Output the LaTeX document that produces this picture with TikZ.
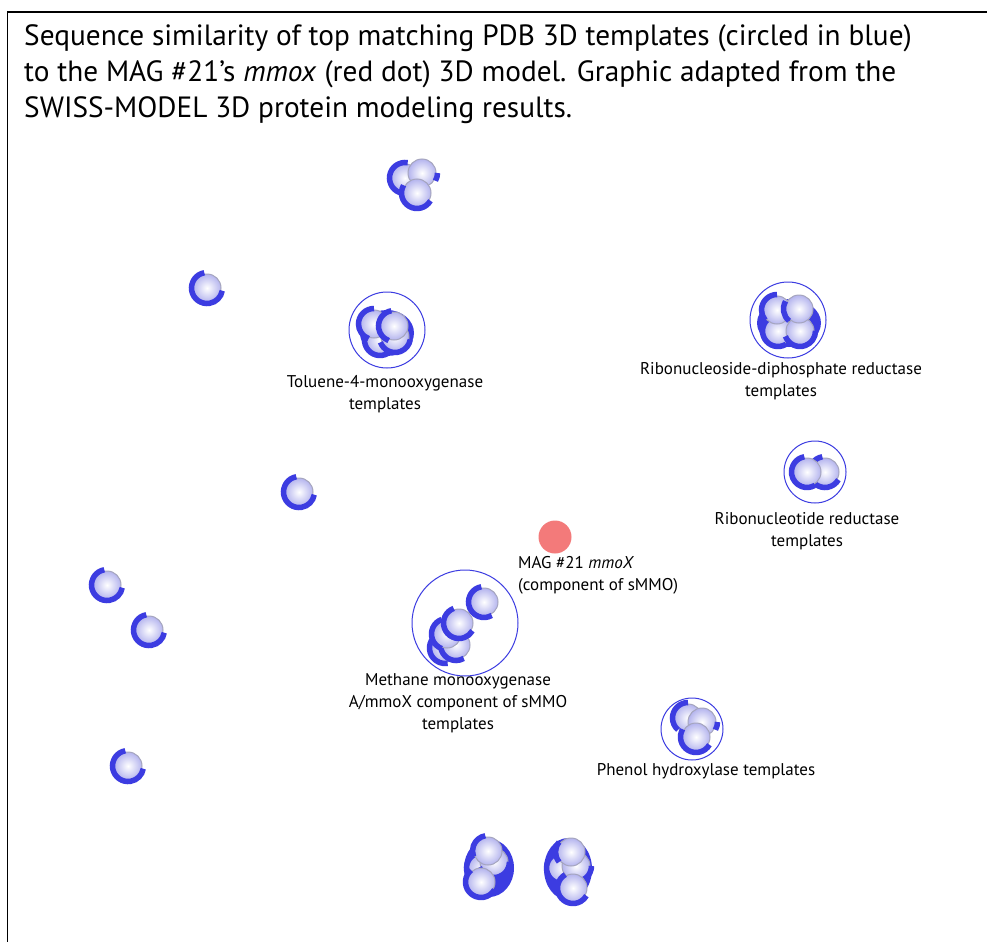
\documentclass[tikz,border=0pt]{standalone}
\usepackage{fontspec}
\setmainfont{PT Sans}
\definecolor{bblue}{RGB}{60,60,225}
\definecolor{lav}{RGB}{180,180,238}
\definecolor{ring}{RGB}{165,165,190}
\definecolor{reddot}{RGB}{243,122,122}
\tikzset{
  tpl/.style={circle, minimum size=28pt, inner sep=0pt, draw=ring, line width=1pt, shade, inner color=white, outer color=lav},
  barc/.style={draw=bblue, line width=5.5pt},
  blob/.style={fill=bblue},
  encl/.style={circle, draw=bblue, line width=1pt, inner sep=0pt},
  lbl/.style={font=\fontsize{17}{22}\selectfont, align=center, inner sep=0pt},
}
\newcommand\glyph[5]{%
  \node[tpl] (#1) at (#2,#3) {};
  \draw[barc] (#1.center) ++(-#4:15.5) arc[start angle=-#4, end angle=-#5, radius=15.5];}
\begin{document}
\begin{tikzpicture}[x=1pt,y=-1pt]
\useasboundingbox (0,0) rectangle (987,942);
\fill[white] (0,0) rectangle (987,942);
\draw[line width=1.5pt] (987,12) -- (7.5,12) -- (7.5,942);
% title
\node[anchor=north west, align=left, inner sep=0pt, font=\fontsize{29.3}{36}\selectfont] (title) at (24,24)
 {Sequence similarity of top matching PDB 3D templates (circled in blue)\\
  to the MAG \#21’s \textit{mmox} (red dot) 3D model. Graphic adapted from the\\
  SWISS-MODEL 3D protein modeling results.};
% single templates
\glyph{s1}{207}{288}{100}{350}
\glyph{s2}{299}{492}{100}{350}
\glyph{s3}{107}{585}{100}{350}
\glyph{s4}{149}{630}{100}{350}
\glyph{s5}{128}{766}{100}{350}
% top cluster
\glyph{t1}{405}{178}{80}{260}
\glyph{t2}{422}{173}{330}{360}
\glyph{t3}{417}{193}{150}{330}
% toluene cluster
\node[encl, minimum size=76pt] (tolE) at (387,330) {};
\fill[blob] (387,333) ellipse[x radius=27, y radius=23];
\glyph{to1}{380}{340}{120}{330}
\glyph{to2}{395}{337}{200}{350}
\glyph{to3}{374}{324}{90}{250}
\glyph{to4}{394}{326}{100}{250}
\node[lbl] (tolL) at (385,394) {Toluene-4-monooxygenase\\templates};
% ribonucleoside cluster
\node[encl, minimum size=76pt] (rsE) at (788,320) {};
\fill[blob] (789,323) ellipse[x radius=32, y radius=24];
\glyph{rs1}{778}{331}{120}{300}
\glyph{rs2}{800}{331}{200}{360}
\glyph{rs3}{777}{310}{90}{220}
\glyph{rs4}{799}{309}{150}{230}
\node[lbl] (rsL) at (781,381) {Ribonucleoside-diphosphate reductase\\templates};
% ribonucleotide cluster
\node[encl, minimum size=62pt] (rtE) at (815,472) {};
\glyph{rt2}{825}{472}{100}{330}
\glyph{rt1}{807}{472}{100}{300}
\node[lbl] (rtL) at (807,531) {Ribonucleotide reductase\\templates};
% red dot
\node[circle, fill=reddot, minimum size=33pt, inner sep=0pt] (mag) at (555,537) {};
\node[lbl, align=left, anchor=north west] (magL) at (518,556) {MAG \#21 \textit{mmoX}\\(component of sMMO)};
% methane cluster
\node[encl, minimum size=106pt] (mmE) at (465,623) {};
\glyph{mm1}{484}{602}{100}{300}
\glyph{mm5}{445}{648}{130}{280}
\glyph{mm4}{456}{645}{180}{300}
\glyph{mm3}{447}{634}{110}{250}
\glyph{mm2}{459}{623}{110}{330}
\node[lbl] (mmL) at (458,703) {Methane monooxygenase\\A/mmoX component of sMMO\\templates};
% phenol cluster
\node[encl, minimum size=62pt] (phE) at (692,729) {};
\glyph{ph1}{688}{718}{90}{230}
\glyph{ph2}{702}{722}{330}{360}
\glyph{ph3}{696}{737}{150}{330}
\node[lbl] (phL) at (706,771) {Phenol hydroxylase templates};
% bottom clusters
\fill[blob] (489,868) ellipse[x radius=25, y radius=29];
\glyph{b1}{482}{868}{100}{260}
\glyph{b2}{494}{862}{200}{360}
\glyph{b3}{488}{851}{100}{200}
\glyph{b4}{481}{882}{130}{330}
\fill[blob] (568,869) ellipse[x radius=24, y radius=31];
\glyph{c1}{562}{868}{110}{260}
\glyph{c2}{576}{866}{250}{360}
\glyph{c3}{571}{852}{140}{220}
\glyph{c4}{573}{888}{120}{330}
\end{tikzpicture}
\end{document}
